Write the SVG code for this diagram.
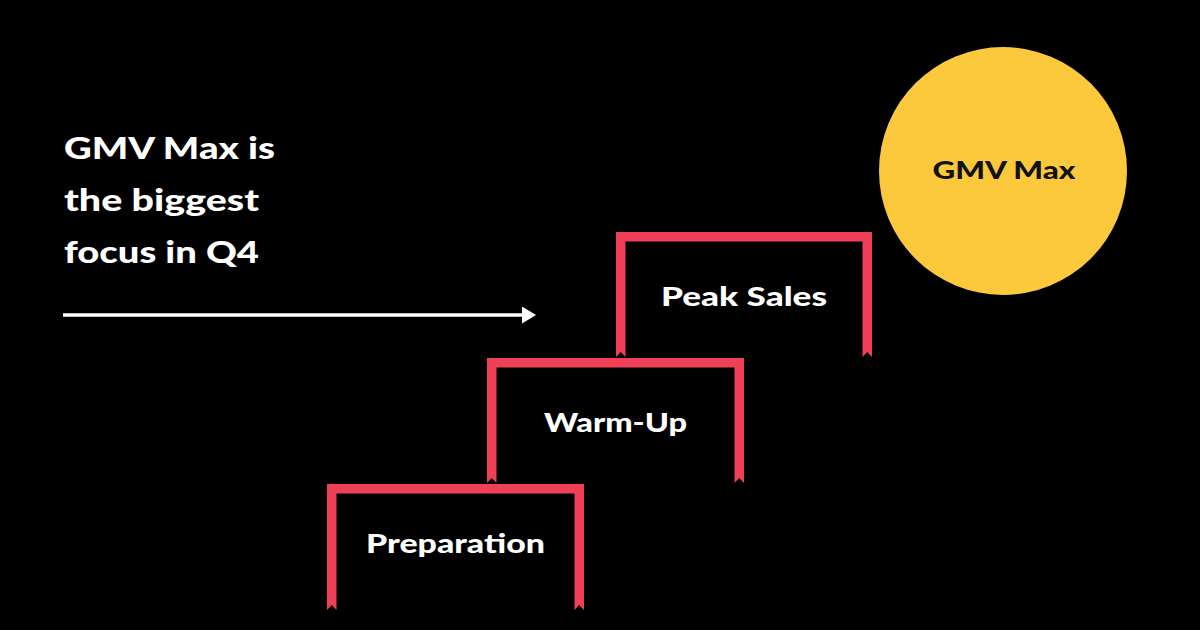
<svg xmlns="http://www.w3.org/2000/svg" width="1200" height="630" viewBox="0 0 1200 630">
  <style>
    .bg { fill: #000000; }
    .frame { fill: #ef4058; }
    .label { font-family: Lato, "Liberation Sans", sans-serif; font-weight: 900; fill: #ffffff; text-anchor: middle; font-size: 27px; }
    .head { font-family: Lato, "Liberation Sans", sans-serif; font-weight: 900; fill: #ffffff; font-size: 31px; }
    .circ { fill: #fdc93c; }
    .circ-label { font-family: Lato, "Liberation Sans", sans-serif; font-weight: 900; fill: #111111; text-anchor: middle; font-size: 24px; }
    .conn { stroke: #ffffff; stroke-width: 3.5; fill: none; }
  </style>
  <defs>
    <marker id="arrowhead" markerUnits="userSpaceOnUse" markerWidth="14" markerHeight="17" refX="0" refY="8.5" orient="auto">
      <path d="M0,0 L14,8.5 L0,17 Z" fill="#ffffff"/>
    </marker>
  </defs>
  <rect class="bg" x="0" y="0" width="1200" height="630"/>

  <g id="headline">
    <text class="head" x="64" y="159" textLength="211" lengthAdjust="spacingAndGlyphs">GMV Max is</text>
    <text class="head" x="64" y="211" textLength="195" lengthAdjust="spacingAndGlyphs">the biggest</text>
    <text class="head" x="64" y="263" textLength="195" lengthAdjust="spacingAndGlyphs">focus in Q4</text>
  </g>

  <g id="connectors">
    <line class="conn" x1="63" y1="315" x2="522" y2="315" marker-end="url(#arrowhead)"/>
  </g>

  <g id="step-preparation">
    <path class="frame" d="M327,484 H584 V610 L579.25,605 L574.5,610 V493.5 H336.5 V610 L331.75,605 L327,610 Z"/>
    <text class="label" x="455.5" y="553" textLength="179" lengthAdjust="spacingAndGlyphs">Preparation</text>
  </g>

  <g id="step-warmup">
    <path class="frame" d="M487,358 H744 V483 L739.25,478 L734.5,483 V367.5 H496.5 V483 L491.75,478 L487,483 Z"/>
    <text class="label" x="615.5" y="432" textLength="143" lengthAdjust="spacingAndGlyphs">Warm-Up</text>
  </g>

  <g id="step-peak">
    <path class="frame" d="M616,232 H872 V357 L867.25,352 L862.5,357 V241.5 H625.5 V357 L620.75,352 L616,357 Z"/>
    <text class="label" x="744" y="306" textLength="166" lengthAdjust="spacingAndGlyphs">Peak Sales</text>
  </g>

  <g id="gmv-max">
    <circle class="circ" cx="1003" cy="171" r="124"/>
    <text class="circ-label" x="1004" y="179" textLength="143" lengthAdjust="spacingAndGlyphs">GMV Max</text>
  </g>
</svg>
